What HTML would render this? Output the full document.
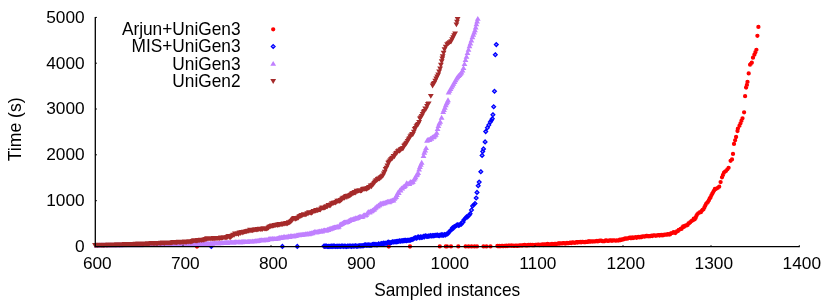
<!DOCTYPE html>
<html><head><meta charset="utf-8"><title>Sampled instances vs Time</title>
<style>
html,body{margin:0;padding:0;background:#fff;}
svg{display:block;will-change:transform;}
text{font-family:"Liberation Sans",sans-serif;font-size:17.3px;fill:#000;}
</style></head>
<body>
<svg width="830" height="302" viewBox="0 0 830 302">
<rect width="830" height="302" fill="#fff"/>
<g id="series">
<path id="s-arjun" d="M197 246.5h0M324.6 246.5h0M388.8 246.5h0M410 246.5h0M439.8 246.4h0M445.8 246.4h0M447 246.4h0M451 246.4h0M458.3 246.4h0M465.6 246.4h0M468.6 246.4h0M471.6 246.4h0M474.6 246.4h0M477 246.4h0M483.5 246.4h0M486.5 246.4h0M490.5 246.4h0M497.4 246h0M498.3 246.2h0M499.2 246h0M500.1 246.2h0M501 246.2h0M501.8 245.9h0M502.7 246h0M503.6 246.1h0M504.5 245.9h0M505.4 246.1h0M506.2 245.6h0M507.1 246.1h0M508 245.8h0M508.9 245.7h0M509.8 245.6h0M510.6 245.7h0M511.5 245.8h0M512.4 245.7h0M513.3 245.9h0M514.2 245.9h0M515 245.8h0M515.9 245.6h0M516.8 245.9h0M517.7 245.9h0M518.6 245.6h0M519.4 245.6h0M520.3 245.3h0M521.2 245.3h0M522.1 245.6h0M523 245.1h0M523.9 245.2h0M524.7 245h0M525.6 245.3h0M526.5 245.4h0M527.4 245.4h0M528.3 244.9h0M529.1 245.1h0M530 245h0M530.9 244.8h0M531.8 245.1h0M532.7 245h0M533.5 245.1h0M534.4 245.2h0M535.3 244.8h0M536.2 244.9h0M537.1 244.8h0M537.9 244.7h0M538.8 244.6h0M539.7 245.1h0M540.6 244.9h0M541.5 244.9h0M542.3 244.4h0M543.2 245h0M544.1 244.5h0M545 244.5h0M545.9 244.6h0M546.7 244.4h0M547.6 244h0M548.5 244.4h0M549.4 244.4h0M550.3 244.4h0M551.2 244.4h0M552 243.9h0M552.9 244.1h0M553.8 244.3h0M554.7 244h0M555.6 243.8h0M556.4 244.1h0M557.3 243.8h0M558.2 243.4h0M559.1 243.7h0M560 243.5h0M560.8 243.4h0M561.7 243.3h0M562.6 243.4h0M563.5 243.2h0M564.4 243.4h0M565.2 243.5h0M566.1 243.4h0M567 243h0M567.9 243.2h0M568.8 243.2h0M569.6 242.8h0M570.5 242.7h0M571.4 243h0M572.3 242.4h0M573.2 242.6h0M574 242.6h0M574.9 242.9h0M575.8 242.3h0M576.7 242.1h0M577.6 242.6h0M578.4 242.2h0M579.3 242.1h0M580.2 241.9h0M581.1 242.4h0M582 241.8h0M582.9 241.8h0M583.7 242.1h0M584.6 242.1h0M585.5 242h0M586.4 241.9h0M587.3 241.8h0M588.1 241.9h0M589 241.2h0M589.9 241.6h0M590.8 241.7h0M591.7 241.4h0M592.5 241.6h0M593.4 241.4h0M594.3 241.3h0M595.2 241.4h0M596.1 241.2h0M596.9 241h0M597.8 241.3h0M598.7 241h0M599.6 240.9h0M600.5 240.7h0M601.3 240.7h0M602.2 241.2h0M603.1 241.1h0M604 241.1h0M604.9 241h0M605.7 240.4h0M606.6 240.6h0M607.5 240.8h0M608.4 240.9h0M609.3 240.6h0M610.2 240.5h0M611 240.4h0M611.9 240.8h0M612.8 240.5h0M613.7 240.3h0M614.6 240.3h0M615.4 240.6h0M616.3 240.6h0M617.2 240.3h0M618.1 240.5h0M619 240.4h0M619.8 239.7h0M620.7 240.2h0M621.6 239.6h0M622.5 239.5h0M623.4 239.4h0M624.2 238.8h0M625.1 238.5h0M626 238.8h0M626.9 238.3h0M627.8 238.6h0M628.6 238.2h0M629.5 237.7h0M630.4 238h0M631.3 238.2h0M632.2 237.5h0M633 238h0M633.9 237.8h0M634.8 237.6h0M635.7 237.2h0M636.6 237.8h0M637.4 237.4h0M638.3 237h0M639.2 237.4h0M640.1 236.8h0M641 237h0M641.9 237.1h0M642.7 236.4h0M643.6 236.4h0M644.5 236.7h0M645.4 236.2h0M646.3 236h0M647.1 236h0M648 236.1h0M648.9 236.3h0M649.8 236.1h0M650.7 236h0M651.5 235.7h0M652.4 236h0M653.3 235.5h0M654.2 235.4h0M655.1 235.6h0M655.9 235.8h0M656.8 235.3h0M657.7 235.3h0M658.6 235.2h0M659.5 235.5h0M660.3 235.1h0M661.2 235h0M662.1 235.4h0M663 234.8h0M663.9 235h0M664.7 234.6h0M665.6 234.6h0M666.5 234.6h0M667.4 234.5h0M668.3 234.2h0M669.2 234.5h0M670 234.4h0M670.9 233.3h0M671.8 233.1h0M672.7 232.8h0M673.6 232.1h0M674.4 232.5h0M675.3 233h0M676.2 232h0M677.1 231.1h0M678 231h0M678.8 229.8h0M679.7 229.6h0M680.6 228.8h0M681.5 228.9h0M682.4 227.5h0M683.2 226.5h0M684.1 226.8h0M685 225.9h0M685.9 225.5h0M686.8 225.4h0M687.6 224.9h0M688.5 223.4h0M689.4 223h0M690.3 222.2h0M691.2 221.3h0M692 220.7h0M692.9 220.3h0M693.8 218.6h0M694.7 219.3h0M695.6 217.9h0M696.4 215.9h0M697.3 214.3h0M698.2 213.4h0M699.1 212.8h0M700 212.2h0M700.9 212.2h0M701.7 210.8h0M702.6 210h0M703.5 209.3h0M704.4 207.4h0M705.3 205.6h0M706.1 204h0M707 202.9h0M707.9 202h0M708.8 200.4h0M709.7 198.5h0M710.5 197.5h0M711.4 195.3h0M712.3 193.7h0M713.2 192.1h0M714.1 190.6h0M714.9 188.9h0M715.8 189h0M717.9 187.8h0M719.2 186.7h0M720.6 182.1h0M722 177.3h0M723 175h0M724 172.7h0M725.1 171.6h0M726.2 170.8h0M727.4 169.3h0M728.6 167.8h0M730.6 160.8h0M732 159.4h0M733 153.9h0M734 143.9h0M735.1 140.3h0M736.1 137h0M737.5 131h0M737.9 128.6h0M739.5 125.7h0M740.5 123.3h0M741.5 120.7h0M742.5 118.3h0M744.1 112.3h0M745.1 96.2h0M746.1 87.5h0M746.9 84.9h0M747.5 81.9h0M748.7 73.4h0M750.1 64.7h0M751 63.7h0M751.8 62.7h0M753 57.7h0M754.4 54.7h0M755.4 52.2h0M756.4 49.8h0M757.4 35.8h0M758.4 26.9h0M273.2 29.3h0" fill="none" stroke="#ff0000" stroke-width="4.3" stroke-linecap="round"/>
<path id="s-mis" d="M211.3 244.5l1.9 1.9l-1.9 1.9l-1.9 -1.9zM282.4 244.5l1.9 1.9l-1.9 1.9l-1.9 -1.9zM297.3 244.5l1.9 1.9l-1.9 1.9l-1.9 -1.9zM324 244.2l1.9 1.9l-1.9 1.9l-1.9 -1.9zM324.8 244.4l1.9 1.9l-1.9 1.9l-1.9 -1.9zM325.7 244.2l1.9 1.9l-1.9 1.9l-1.9 -1.9zM326.6 244.2l1.9 1.9l-1.9 1.9l-1.9 -1.9zM327.5 244.6l1.9 1.9l-1.9 1.9l-1.9 -1.9zM328.4 244.5l1.9 1.9l-1.9 1.9l-1.9 -1.9zM329.2 244.6l1.9 1.9l-1.9 1.9l-1.9 -1.9zM330.1 244.4l1.9 1.9l-1.9 1.9l-1.9 -1.9zM331 244.5l1.9 1.9l-1.9 1.9l-1.9 -1.9zM331.9 244.2l1.9 1.9l-1.9 1.9l-1.9 -1.9zM332.8 244.5l1.9 1.9l-1.9 1.9l-1.9 -1.9zM333.6 244.2l1.9 1.9l-1.9 1.9l-1.9 -1.9zM334.5 244.2l1.9 1.9l-1.9 1.9l-1.9 -1.9zM335.4 244.6l1.9 1.9l-1.9 1.9l-1.9 -1.9zM336.3 244.4l1.9 1.9l-1.9 1.9l-1.9 -1.9zM337.2 244.5l1.9 1.9l-1.9 1.9l-1.9 -1.9zM338 244.4l1.9 1.9l-1.9 1.9l-1.9 -1.9zM338.9 244.3l1.9 1.9l-1.9 1.9l-1.9 -1.9zM339.8 244.3l1.9 1.9l-1.9 1.9l-1.9 -1.9zM340.7 244.6l1.9 1.9l-1.9 1.9l-1.9 -1.9zM341.6 244.1l1.9 1.9l-1.9 1.9l-1.9 -1.9zM342.4 244.1l1.9 1.9l-1.9 1.9l-1.9 -1.9zM343.3 244.5l1.9 1.9l-1.9 1.9l-1.9 -1.9zM344.2 244.3l1.9 1.9l-1.9 1.9l-1.9 -1.9zM345.1 244.1l1.9 1.9l-1.9 1.9l-1.9 -1.9zM346 244.6l1.9 1.9l-1.9 1.9l-1.9 -1.9zM346.9 244.6l1.9 1.9l-1.9 1.9l-1.9 -1.9zM347.7 244.1l1.9 1.9l-1.9 1.9l-1.9 -1.9zM348.6 244.4l1.9 1.9l-1.9 1.9l-1.9 -1.9zM349.5 244.1l1.9 1.9l-1.9 1.9l-1.9 -1.9zM350.4 244.1l1.9 1.9l-1.9 1.9l-1.9 -1.9zM351.3 244.6l1.9 1.9l-1.9 1.9l-1.9 -1.9zM352.1 244.1l1.9 1.9l-1.9 1.9l-1.9 -1.9zM353 244.1l1.9 1.9l-1.9 1.9l-1.9 -1.9zM353.9 244.4l1.9 1.9l-1.9 1.9l-1.9 -1.9zM354.8 244.1l1.9 1.9l-1.9 1.9l-1.9 -1.9zM355.7 243.8l1.9 1.9l-1.9 1.9l-1.9 -1.9zM356.5 244.4l1.9 1.9l-1.9 1.9l-1.9 -1.9zM357.4 244.3l1.9 1.9l-1.9 1.9l-1.9 -1.9zM358.3 244.1l1.9 1.9l-1.9 1.9l-1.9 -1.9zM359.2 243.8l1.9 1.9l-1.9 1.9l-1.9 -1.9zM360.1 244.1l1.9 1.9l-1.9 1.9l-1.9 -1.9zM360.9 243.9l1.9 1.9l-1.9 1.9l-1.9 -1.9zM361.8 243.8l1.9 1.9l-1.9 1.9l-1.9 -1.9zM362.7 243.8l1.9 1.9l-1.9 1.9l-1.9 -1.9zM363.6 243.7l1.9 1.9l-1.9 1.9l-1.9 -1.9zM364.5 243.2l1.9 1.9l-1.9 1.9l-1.9 -1.9zM365.3 243l1.9 1.9l-1.9 1.9l-1.9 -1.9zM366.2 243.2l1.9 1.9l-1.9 1.9l-1.9 -1.9zM367.1 243.4l1.9 1.9l-1.9 1.9l-1.9 -1.9zM368 243l1.9 1.9l-1.9 1.9l-1.9 -1.9zM368.9 243.2l1.9 1.9l-1.9 1.9l-1.9 -1.9zM369.7 243.2l1.9 1.9l-1.9 1.9l-1.9 -1.9zM370.6 243.3l1.9 1.9l-1.9 1.9l-1.9 -1.9zM371.5 243.3l1.9 1.9l-1.9 1.9l-1.9 -1.9zM372.4 242.7l1.9 1.9l-1.9 1.9l-1.9 -1.9zM373.3 242.5l1.9 1.9l-1.9 1.9l-1.9 -1.9zM374.2 242.9l1.9 1.9l-1.9 1.9l-1.9 -1.9zM375 242.4l1.9 1.9l-1.9 1.9l-1.9 -1.9zM375.9 242.9l1.9 1.9l-1.9 1.9l-1.9 -1.9zM376.8 242.7l1.9 1.9l-1.9 1.9l-1.9 -1.9zM377.7 242.8l1.9 1.9l-1.9 1.9l-1.9 -1.9zM378.6 242l1.9 1.9l-1.9 1.9l-1.9 -1.9zM379.4 242.4l1.9 1.9l-1.9 1.9l-1.9 -1.9zM380.3 242.3l1.9 1.9l-1.9 1.9l-1.9 -1.9zM381.2 241.6l1.9 1.9l-1.9 1.9l-1.9 -1.9zM382.1 241.6l1.9 1.9l-1.9 1.9l-1.9 -1.9zM383 242l1.9 1.9l-1.9 1.9l-1.9 -1.9zM383.8 241.1l1.9 1.9l-1.9 1.9l-1.9 -1.9zM384.7 241.6l1.9 1.9l-1.9 1.9l-1.9 -1.9zM385.6 241.3l1.9 1.9l-1.9 1.9l-1.9 -1.9zM386.5 241.4l1.9 1.9l-1.9 1.9l-1.9 -1.9zM387.4 241l1.9 1.9l-1.9 1.9l-1.9 -1.9zM388.2 240.2l1.9 1.9l-1.9 1.9l-1.9 -1.9zM389.1 240.6l1.9 1.9l-1.9 1.9l-1.9 -1.9zM390 240.7l1.9 1.9l-1.9 1.9l-1.9 -1.9zM390.9 240.8l1.9 1.9l-1.9 1.9l-1.9 -1.9zM391.8 240.4l1.9 1.9l-1.9 1.9l-1.9 -1.9zM392.6 239.9l1.9 1.9l-1.9 1.9l-1.9 -1.9zM393.5 240.1l1.9 1.9l-1.9 1.9l-1.9 -1.9zM394.4 239.9l1.9 1.9l-1.9 1.9l-1.9 -1.9zM395.3 239.9l1.9 1.9l-1.9 1.9l-1.9 -1.9zM396.2 239.7l1.9 1.9l-1.9 1.9l-1.9 -1.9zM397 239.7l1.9 1.9l-1.9 1.9l-1.9 -1.9zM397.9 239.5l1.9 1.9l-1.9 1.9l-1.9 -1.9zM398.8 239.3l1.9 1.9l-1.9 1.9l-1.9 -1.9zM399.7 239l1.9 1.9l-1.9 1.9l-1.9 -1.9zM400.6 239.3l1.9 1.9l-1.9 1.9l-1.9 -1.9zM401.4 238.9l1.9 1.9l-1.9 1.9l-1.9 -1.9zM402.3 239l1.9 1.9l-1.9 1.9l-1.9 -1.9zM403.2 238.7l1.9 1.9l-1.9 1.9l-1.9 -1.9zM404.1 238.7l1.9 1.9l-1.9 1.9l-1.9 -1.9zM405 238.5l1.9 1.9l-1.9 1.9l-1.9 -1.9zM405.9 238.5l1.9 1.9l-1.9 1.9l-1.9 -1.9zM406.7 238.8l1.9 1.9l-1.9 1.9l-1.9 -1.9zM407.6 238.4l1.9 1.9l-1.9 1.9l-1.9 -1.9zM408.5 238.4l1.9 1.9l-1.9 1.9l-1.9 -1.9zM409.4 238.3l1.9 1.9l-1.9 1.9l-1.9 -1.9zM410.3 238.2l1.9 1.9l-1.9 1.9l-1.9 -1.9zM411.1 237.7l1.9 1.9l-1.9 1.9l-1.9 -1.9zM412 237.6l1.9 1.9l-1.9 1.9l-1.9 -1.9zM412.9 237.3l1.9 1.9l-1.9 1.9l-1.9 -1.9zM413.8 236.7l1.9 1.9l-1.9 1.9l-1.9 -1.9zM414.7 236.1l1.9 1.9l-1.9 1.9l-1.9 -1.9zM415.5 235.8l1.9 1.9l-1.9 1.9l-1.9 -1.9zM416.4 236.3l1.9 1.9l-1.9 1.9l-1.9 -1.9zM417.3 235.7l1.9 1.9l-1.9 1.9l-1.9 -1.9zM418.2 234.9l1.9 1.9l-1.9 1.9l-1.9 -1.9zM419.1 235.5l1.9 1.9l-1.9 1.9l-1.9 -1.9zM419.9 235.8l1.9 1.9l-1.9 1.9l-1.9 -1.9zM420.8 234.8l1.9 1.9l-1.9 1.9l-1.9 -1.9zM421.7 235.6l1.9 1.9l-1.9 1.9l-1.9 -1.9zM422.6 235.2l1.9 1.9l-1.9 1.9l-1.9 -1.9zM423.5 234.5l1.9 1.9l-1.9 1.9l-1.9 -1.9zM424.3 235.1l1.9 1.9l-1.9 1.9l-1.9 -1.9zM425.2 234l1.9 1.9l-1.9 1.9l-1.9 -1.9zM426.1 234.1l1.9 1.9l-1.9 1.9l-1.9 -1.9zM427 234.6l1.9 1.9l-1.9 1.9l-1.9 -1.9zM427.9 234.4l1.9 1.9l-1.9 1.9l-1.9 -1.9zM428.7 234.2l1.9 1.9l-1.9 1.9l-1.9 -1.9zM429.6 234.1l1.9 1.9l-1.9 1.9l-1.9 -1.9zM430.5 233.7l1.9 1.9l-1.9 1.9l-1.9 -1.9zM431.4 234.1l1.9 1.9l-1.9 1.9l-1.9 -1.9zM432.3 233.7l1.9 1.9l-1.9 1.9l-1.9 -1.9zM433.2 233.9l1.9 1.9l-1.9 1.9l-1.9 -1.9zM434 233.7l1.9 1.9l-1.9 1.9l-1.9 -1.9zM434.9 233.6l1.9 1.9l-1.9 1.9l-1.9 -1.9zM435.8 233.4l1.9 1.9l-1.9 1.9l-1.9 -1.9zM436.7 233.4l1.9 1.9l-1.9 1.9l-1.9 -1.9zM437.6 233.2l1.9 1.9l-1.9 1.9l-1.9 -1.9zM438.4 233.6l1.9 1.9l-1.9 1.9l-1.9 -1.9zM439.3 233.7l1.9 1.9l-1.9 1.9l-1.9 -1.9zM440.2 233.1l1.9 1.9l-1.9 1.9l-1.9 -1.9zM441.1 233.4l1.9 1.9l-1.9 1.9l-1.9 -1.9zM442 232.7l1.9 1.9l-1.9 1.9l-1.9 -1.9zM442.8 233.4l1.9 1.9l-1.9 1.9l-1.9 -1.9zM443.7 233.2l1.9 1.9l-1.9 1.9l-1.9 -1.9zM444.6 232.6l1.9 1.9l-1.9 1.9l-1.9 -1.9zM445.5 233l1.9 1.9l-1.9 1.9l-1.9 -1.9zM446.4 232.3l1.9 1.9l-1.9 1.9l-1.9 -1.9zM447.2 232.1l1.9 1.9l-1.9 1.9l-1.9 -1.9zM448.1 231.6l1.9 1.9l-1.9 1.9l-1.9 -1.9zM449 230l1.9 1.9l-1.9 1.9l-1.9 -1.9zM449.9 229.2l1.9 1.9l-1.9 1.9l-1.9 -1.9zM450.8 228.3l1.9 1.9l-1.9 1.9l-1.9 -1.9zM451.6 227.8l1.9 1.9l-1.9 1.9l-1.9 -1.9zM452.5 225.8l1.9 1.9l-1.9 1.9l-1.9 -1.9zM453.4 226.4l1.9 1.9l-1.9 1.9l-1.9 -1.9zM454.3 224.6l1.9 1.9l-1.9 1.9l-1.9 -1.9zM455.2 224.6l1.9 1.9l-1.9 1.9l-1.9 -1.9zM456 223.9l1.9 1.9l-1.9 1.9l-1.9 -1.9zM456.9 223.2l1.9 1.9l-1.9 1.9l-1.9 -1.9zM457.8 222.8l1.9 1.9l-1.9 1.9l-1.9 -1.9zM458.7 223.5l1.9 1.9l-1.9 1.9l-1.9 -1.9zM459.6 223.1l1.9 1.9l-1.9 1.9l-1.9 -1.9zM460.4 222.1l1.9 1.9l-1.9 1.9l-1.9 -1.9zM461.3 222.4l1.9 1.9l-1.9 1.9l-1.9 -1.9zM462.2 220.4l1.9 1.9l-1.9 1.9l-1.9 -1.9zM463.1 220.2l1.9 1.9l-1.9 1.9l-1.9 -1.9zM464 217.9l1.9 1.9l-1.9 1.9l-1.9 -1.9zM464.9 216.9l1.9 1.9l-1.9 1.9l-1.9 -1.9zM465.7 215.8l1.9 1.9l-1.9 1.9l-1.9 -1.9zM466.6 214.8l1.9 1.9l-1.9 1.9l-1.9 -1.9zM467.5 215.1l1.9 1.9l-1.9 1.9l-1.9 -1.9zM468.4 214l1.9 1.9l-1.9 1.9l-1.9 -1.9zM469.3 213.1l1.9 1.9l-1.9 1.9l-1.9 -1.9zM470.1 211.9l1.9 1.9l-1.9 1.9l-1.9 -1.9zM471.5 208.1l1.9 1.9l-1.9 1.9l-1.9 -1.9zM472.6 204l1.9 1.9l-1.9 1.9l-1.9 -1.9zM473.8 202.8l1.9 1.9l-1.9 1.9l-1.9 -1.9zM475 201.6l1.9 1.9l-1.9 1.9l-1.9 -1.9zM476.2 196.1l1.9 1.9l-1.9 1.9l-1.9 -1.9zM477 190.5l1.9 1.9l-1.9 1.9l-1.9 -1.9zM478.2 183.8l1.9 1.9l-1.9 1.9l-1.9 -1.9zM479.2 180.2l1.9 1.9l-1.9 1.9l-1.9 -1.9zM480.8 169.8l1.9 1.9l-1.9 1.9l-1.9 -1.9zM482.1 153.5l1.9 1.9l-1.9 1.9l-1.9 -1.9zM482.7 149.6l1.9 1.9l-1.9 1.9l-1.9 -1.9zM483.5 147l1.9 1.9l-1.9 1.9l-1.9 -1.9zM485.1 140l1.9 1.9l-1.9 1.9l-1.9 -1.9zM485.7 129.7l1.9 1.9l-1.9 1.9l-1.9 -1.9zM487.4 125.8l1.9 1.9l-1.9 1.9l-1.9 -1.9zM488.8 123.1l1.9 1.9l-1.9 1.9l-1.9 -1.9zM490.3 120.2l1.9 1.9l-1.9 1.9l-1.9 -1.9zM491.3 118.5l1.9 1.9l-1.9 1.9l-1.9 -1.9zM492.3 116.8l1.9 1.9l-1.9 1.9l-1.9 -1.9zM492.9 112.8l1.9 1.9l-1.9 1.9l-1.9 -1.9zM493.7 104.9l1.9 1.9l-1.9 1.9l-1.9 -1.9zM494.5 89.4l1.9 1.9l-1.9 1.9l-1.9 -1.9zM495.3 52.8l1.9 1.9l-1.9 1.9l-1.9 -1.9zM496.3 42.7l1.9 1.9l-1.9 1.9l-1.9 -1.9zM273.2 44.6l1.9 1.9l-1.9 1.9l-1.9 -1.9z" fill="#0000ff" fill-opacity="0.45" stroke="#0000ff" stroke-width="1.25" stroke-linejoin="miter"/>
<path id="s-unigen3" d="M96.8 242.8l2.9 4.9h-5.8zM97.6 242.5l2.9 4.9h-5.8zM98.5 242.7l2.9 4.9h-5.8zM99.4 242.5l2.9 4.9h-5.8zM100.3 242.7l2.9 4.9h-5.8zM101.2 242.5l2.9 4.9h-5.8zM102 242.5l2.9 4.9h-5.8zM102.9 242.5l2.9 4.9h-5.8zM103.8 242.5l2.9 4.9h-5.8zM104.7 242.6l2.9 4.9h-5.8zM105.6 242.4l2.9 4.9h-5.8zM106.4 242.6l2.9 4.9h-5.8zM107.3 242.7l2.9 4.9h-5.8zM108.2 242.4l2.9 4.9h-5.8zM109.1 242.7l2.9 4.9h-5.8zM110 242.6l2.9 4.9h-5.8zM110.9 242.5l2.9 4.9h-5.8zM111.7 242.5l2.9 4.9h-5.8zM112.6 242.6l2.9 4.9h-5.8zM113.5 242.5l2.9 4.9h-5.8zM114.4 242.5l2.9 4.9h-5.8zM115.3 242.4l2.9 4.9h-5.8zM116.1 242.5l2.9 4.9h-5.8zM117 242.3l2.9 4.9h-5.8zM117.9 242.3l2.9 4.9h-5.8zM118.8 242.2l2.9 4.9h-5.8zM119.7 242.3l2.9 4.9h-5.8zM120.5 242.5l2.9 4.9h-5.8zM121.4 242.3l2.9 4.9h-5.8zM122.3 242.2l2.9 4.9h-5.8zM123.2 242.4l2.9 4.9h-5.8zM124.1 242.3l2.9 4.9h-5.8zM124.9 242.4l2.9 4.9h-5.8zM125.8 242.4l2.9 4.9h-5.8zM126.7 242.4l2.9 4.9h-5.8zM127.6 242.2l2.9 4.9h-5.8zM128.5 242.3l2.9 4.9h-5.8zM129.3 242.2l2.9 4.9h-5.8zM130.2 242.2l2.9 4.9h-5.8zM131.1 242.2l2.9 4.9h-5.8zM132 242.3l2.9 4.9h-5.8zM132.9 242.2l2.9 4.9h-5.8zM133.7 242.2l2.9 4.9h-5.8zM134.6 242.1l2.9 4.9h-5.8zM135.5 242.4l2.9 4.9h-5.8zM136.4 242.1l2.9 4.9h-5.8zM137.3 242.3l2.9 4.9h-5.8zM138.1 242.3l2.9 4.9h-5.8zM139 242l2.9 4.9h-5.8zM139.9 242.1l2.9 4.9h-5.8zM140.8 242.3l2.9 4.9h-5.8zM141.7 242.1l2.9 4.9h-5.8zM142.6 242l2.9 4.9h-5.8zM143.4 242.2l2.9 4.9h-5.8zM144.3 242.1l2.9 4.9h-5.8zM145.2 242.1l2.9 4.9h-5.8zM146.1 242l2.9 4.9h-5.8zM147 242l2.9 4.9h-5.8zM147.8 242.1l2.9 4.9h-5.8zM148.7 242l2.9 4.9h-5.8zM149.6 242.1l2.9 4.9h-5.8zM150.5 241.9l2.9 4.9h-5.8zM151.4 242.1l2.9 4.9h-5.8zM152.2 242l2.9 4.9h-5.8zM153.1 242l2.9 4.9h-5.8zM154 242l2.9 4.9h-5.8zM154.9 241.9l2.9 4.9h-5.8zM155.8 242l2.9 4.9h-5.8zM156.6 241.9l2.9 4.9h-5.8zM157.5 242.1l2.9 4.9h-5.8zM158.4 241.9l2.9 4.9h-5.8zM159.3 241.9l2.9 4.9h-5.8zM160.2 241.9l2.9 4.9h-5.8zM161 241.8l2.9 4.9h-5.8zM161.9 241.7l2.9 4.9h-5.8zM162.8 242l2.9 4.9h-5.8zM163.7 241.9l2.9 4.9h-5.8zM164.6 242l2.9 4.9h-5.8zM165.4 241.7l2.9 4.9h-5.8zM166.3 241.9l2.9 4.9h-5.8zM167.2 241.7l2.9 4.9h-5.8zM168.1 241.9l2.9 4.9h-5.8zM169 241.7l2.9 4.9h-5.8zM169.9 241.8l2.9 4.9h-5.8zM170.7 241.7l2.9 4.9h-5.8zM171.6 241.8l2.9 4.9h-5.8zM172.5 241.7l2.9 4.9h-5.8zM173.4 241.7l2.9 4.9h-5.8zM174.3 241.8l2.9 4.9h-5.8zM175.1 241.6l2.9 4.9h-5.8zM176 241.9l2.9 4.9h-5.8zM176.9 241.8l2.9 4.9h-5.8zM177.8 241.8l2.9 4.9h-5.8zM178.7 241.6l2.9 4.9h-5.8zM179.5 241.8l2.9 4.9h-5.8zM180.4 241.6l2.9 4.9h-5.8zM181.3 241.7l2.9 4.9h-5.8zM182.2 241.6l2.9 4.9h-5.8zM183.1 241.7l2.9 4.9h-5.8zM183.9 241.8l2.9 4.9h-5.8zM184.8 241.7l2.9 4.9h-5.8zM185.7 241.5l2.9 4.9h-5.8zM186.6 241.6l2.9 4.9h-5.8zM187.5 241.6l2.9 4.9h-5.8zM188.3 241.6l2.9 4.9h-5.8zM189.2 241.6l2.9 4.9h-5.8zM190.1 241.6l2.9 4.9h-5.8zM191 241.5l2.9 4.9h-5.8zM191.9 241.5l2.9 4.9h-5.8zM192.7 241.4l2.9 4.9h-5.8zM193.6 241.4l2.9 4.9h-5.8zM194.5 241.3l2.9 4.9h-5.8zM195.4 241.3l2.9 4.9h-5.8zM196.3 241.4l2.9 4.9h-5.8zM197.1 241.3l2.9 4.9h-5.8zM198 241.1l2.9 4.9h-5.8zM198.9 241.4l2.9 4.9h-5.8zM199.8 241.4l2.9 4.9h-5.8zM200.7 241.2l2.9 4.9h-5.8zM201.6 241.2l2.9 4.9h-5.8zM202.4 241.3l2.9 4.9h-5.8zM203.3 241.3l2.9 4.9h-5.8zM204.2 241l2.9 4.9h-5.8zM205.1 241.3l2.9 4.9h-5.8zM206 241.3l2.9 4.9h-5.8zM206.8 240.9l2.9 4.9h-5.8zM207.7 240.8l2.9 4.9h-5.8zM208.6 241l2.9 4.9h-5.8zM209.5 241.2l2.9 4.9h-5.8zM210.4 240.8l2.9 4.9h-5.8zM211.2 240.8l2.9 4.9h-5.8zM212.1 241l2.9 4.9h-5.8zM213 240.7l2.9 4.9h-5.8zM213.9 240.6l2.9 4.9h-5.8zM214.8 240.4l2.9 4.9h-5.8zM215.6 240.7l2.9 4.9h-5.8zM216.5 240.4l2.9 4.9h-5.8zM217.4 240.7l2.9 4.9h-5.8zM218.3 240.5l2.9 4.9h-5.8zM219.2 240.3l2.9 4.9h-5.8zM220 240.3l2.9 4.9h-5.8zM220.9 240.4l2.9 4.9h-5.8zM221.8 240.2l2.9 4.9h-5.8zM222.7 240l2.9 4.9h-5.8zM223.6 240.2l2.9 4.9h-5.8zM224.4 240l2.9 4.9h-5.8zM225.3 240l2.9 4.9h-5.8zM226.2 239.8l2.9 4.9h-5.8zM227.1 240l2.9 4.9h-5.8zM228 239.7l2.9 4.9h-5.8zM228.9 239.9l2.9 4.9h-5.8zM229.7 239.9l2.9 4.9h-5.8zM230.6 239.6l2.9 4.9h-5.8zM231.5 239.6l2.9 4.9h-5.8zM232.4 239.7l2.9 4.9h-5.8zM233.3 239.8l2.9 4.9h-5.8zM234.1 239.7l2.9 4.9h-5.8zM235 239.3l2.9 4.9h-5.8zM235.9 239.3l2.9 4.9h-5.8zM236.8 239.4l2.9 4.9h-5.8zM237.7 239.4l2.9 4.9h-5.8zM238.5 239.2l2.9 4.9h-5.8zM239.4 239.2l2.9 4.9h-5.8zM240.3 239.5l2.9 4.9h-5.8zM241.2 239.1l2.9 4.9h-5.8zM242.1 239.3l2.9 4.9h-5.8zM242.9 239.1l2.9 4.9h-5.8zM243.8 239l2.9 4.9h-5.8zM244.7 239.1l2.9 4.9h-5.8zM245.6 239l2.9 4.9h-5.8zM246.5 239.2l2.9 4.9h-5.8zM247.3 239.1l2.9 4.9h-5.8zM248.2 238.8l2.9 4.9h-5.8zM249.1 238.9l2.9 4.9h-5.8zM250 238.7l2.9 4.9h-5.8zM250.9 238.9l2.9 4.9h-5.8zM251.7 238.9l2.9 4.9h-5.8zM252.6 238.6l2.9 4.9h-5.8zM253.5 238.7l2.9 4.9h-5.8zM254.4 238.6l2.9 4.9h-5.8zM255.3 238.3l2.9 4.9h-5.8zM256.1 238.2l2.9 4.9h-5.8zM257 238.3l2.9 4.9h-5.8zM257.9 238.1l2.9 4.9h-5.8zM258.8 237.9l2.9 4.9h-5.8zM259.7 237.6l2.9 4.9h-5.8zM260.6 237.4l2.9 4.9h-5.8zM261.4 237.3l2.9 4.9h-5.8zM262.3 237.4l2.9 4.9h-5.8zM263.2 237.5l2.9 4.9h-5.8zM264.1 237.4l2.9 4.9h-5.8zM265 237.1l2.9 4.9h-5.8zM265.8 237.4l2.9 4.9h-5.8zM266.7 237.1l2.9 4.9h-5.8zM267.6 237.2l2.9 4.9h-5.8zM268.5 236.3l2.9 4.9h-5.8zM269.4 236.2l2.9 4.9h-5.8zM270.2 236.1l2.9 4.9h-5.8zM271.1 236.4l2.9 4.9h-5.8zM272 236.1l2.9 4.9h-5.8zM272.9 235.9l2.9 4.9h-5.8zM273.8 236.2l2.9 4.9h-5.8zM274.6 236l2.9 4.9h-5.8zM275.5 236.2l2.9 4.9h-5.8zM276.4 235.9l2.9 4.9h-5.8zM277.3 235.8l2.9 4.9h-5.8zM278.2 235.6l2.9 4.9h-5.8zM279 235.2l2.9 4.9h-5.8zM279.9 234.8l2.9 4.9h-5.8zM280.8 235.2l2.9 4.9h-5.8zM281.7 234.5l2.9 4.9h-5.8zM282.6 234.9l2.9 4.9h-5.8zM283.4 234.2l2.9 4.9h-5.8zM284.3 234.1l2.9 4.9h-5.8zM285.2 234.5l2.9 4.9h-5.8zM286.1 234.5l2.9 4.9h-5.8zM287 234l2.9 4.9h-5.8zM287.9 234.2l2.9 4.9h-5.8zM288.7 233.5l2.9 4.9h-5.8zM289.6 234.1l2.9 4.9h-5.8zM290.5 233.2l2.9 4.9h-5.8zM291.4 233.3l2.9 4.9h-5.8zM292.3 233.6l2.9 4.9h-5.8zM293.1 233.5l2.9 4.9h-5.8zM294 233.3l2.9 4.9h-5.8zM294.9 233.1l2.9 4.9h-5.8zM295.8 233.2l2.9 4.9h-5.8zM296.7 232.6l2.9 4.9h-5.8zM297.5 232.4l2.9 4.9h-5.8zM298.4 232.3l2.9 4.9h-5.8zM299.3 232.3l2.9 4.9h-5.8zM300.2 232l2.9 4.9h-5.8zM301.1 232.2l2.9 4.9h-5.8zM301.9 232l2.9 4.9h-5.8zM302.8 231.7l2.9 4.9h-5.8zM303.7 231.8l2.9 4.9h-5.8zM304.6 231.7l2.9 4.9h-5.8zM305.5 231.2l2.9 4.9h-5.8zM306.3 231.5l2.9 4.9h-5.8zM307.2 231l2.9 4.9h-5.8zM308.1 231.2l2.9 4.9h-5.8zM309 231.3l2.9 4.9h-5.8zM309.9 230.6l2.9 4.9h-5.8zM310.7 230.8l2.9 4.9h-5.8zM311.6 230.2l2.9 4.9h-5.8zM312.5 230.3l2.9 4.9h-5.8zM313.4 229.7l2.9 4.9h-5.8zM314.3 229.2l2.9 4.9h-5.8zM315.1 229.1l2.9 4.9h-5.8zM316 229.6l2.9 4.9h-5.8zM316.9 229.3l2.9 4.9h-5.8zM317.8 229.1l2.9 4.9h-5.8zM318.7 228.7l2.9 4.9h-5.8zM319.6 228.6l2.9 4.9h-5.8zM320.4 228.9l2.9 4.9h-5.8zM321.3 227.9l2.9 4.9h-5.8zM322.2 228.5l2.9 4.9h-5.8zM323.1 227.9l2.9 4.9h-5.8zM324 227.6l2.9 4.9h-5.8zM324.8 227.4l2.9 4.9h-5.8zM325.7 227.8l2.9 4.9h-5.8zM326.6 227.5l2.9 4.9h-5.8zM327.5 226.7l2.9 4.9h-5.8zM328.4 227.1l2.9 4.9h-5.8zM329.2 226.1l2.9 4.9h-5.8zM330.1 226.4l2.9 4.9h-5.8zM331 225.6l2.9 4.9h-5.8zM331.9 225.9l2.9 4.9h-5.8zM332.8 225.1l2.9 4.9h-5.8zM333.6 225l2.9 4.9h-5.8zM334.5 224.6l2.9 4.9h-5.8zM335.4 224.6l2.9 4.9h-5.8zM336.3 224.6l2.9 4.9h-5.8zM337.2 223.7l2.9 4.9h-5.8zM338 224.4l2.9 4.9h-5.8zM338.9 223.7l2.9 4.9h-5.8zM339.8 222l2.9 4.9h-5.8zM340.7 221.6l2.9 4.9h-5.8zM341.6 221.2l2.9 4.9h-5.8zM342.4 220.7l2.9 4.9h-5.8zM343.3 220l2.9 4.9h-5.8zM344.2 219.4l2.9 4.9h-5.8zM345.1 219.5l2.9 4.9h-5.8zM346 219.6l2.9 4.9h-5.8zM346.9 219.2l2.9 4.9h-5.8zM347.7 219l2.9 4.9h-5.8zM348.6 218.2l2.9 4.9h-5.8zM349.5 217.8l2.9 4.9h-5.8zM350.4 217l2.9 4.9h-5.8zM351.3 217.1l2.9 4.9h-5.8zM352.1 216.9l2.9 4.9h-5.8zM353 216.5l2.9 4.9h-5.8zM353.9 216.1l2.9 4.9h-5.8zM354.8 215.9l2.9 4.9h-5.8zM355.7 215.3l2.9 4.9h-5.8zM356.5 215.5l2.9 4.9h-5.8zM357.4 215.2l2.9 4.9h-5.8zM358.3 214.7l2.9 4.9h-5.8zM359.2 214.1l2.9 4.9h-5.8zM360.1 214l2.9 4.9h-5.8zM360.9 214.1l2.9 4.9h-5.8zM361.8 214.2l2.9 4.9h-5.8zM362.7 213.5l2.9 4.9h-5.8zM363.6 212.5l2.9 4.9h-5.8zM364.5 212.3l2.9 4.9h-5.8zM365.3 212.5l2.9 4.9h-5.8zM366.2 212.2l2.9 4.9h-5.8zM367.1 210.5l2.9 4.9h-5.8zM368 209.6l2.9 4.9h-5.8zM368.9 209.1l2.9 4.9h-5.8zM369.7 209.5l2.9 4.9h-5.8zM370.6 208.6l2.9 4.9h-5.8zM371.5 208.4l2.9 4.9h-5.8zM372.4 207.7l2.9 4.9h-5.8zM373.3 206.9l2.9 4.9h-5.8zM374.2 206.7l2.9 4.9h-5.8zM375 205.3l2.9 4.9h-5.8zM375.9 204.7l2.9 4.9h-5.8zM376.8 203.7l2.9 4.9h-5.8zM377.7 203.5l2.9 4.9h-5.8zM378.6 202.6l2.9 4.9h-5.8zM379.4 202.4l2.9 4.9h-5.8zM380.3 200.8l2.9 4.9h-5.8zM381.2 201.4l2.9 4.9h-5.8zM382.1 200.5l2.9 4.9h-5.8zM383 200.9l2.9 4.9h-5.8zM383.8 200.2l2.9 4.9h-5.8zM384.7 200.3l2.9 4.9h-5.8zM385.6 199.7l2.9 4.9h-5.8zM386.5 199.4l2.9 4.9h-5.8zM387.4 198.9l2.9 4.9h-5.8zM388.2 198.8l2.9 4.9h-5.8zM389.1 199.3l2.9 4.9h-5.8zM390 198.5l2.9 4.9h-5.8zM390.9 198.2l2.9 4.9h-5.8zM391.8 197.9l2.9 4.9h-5.8zM392.6 197.4l2.9 4.9h-5.8zM393.5 197.6l2.9 4.9h-5.8zM394.4 195.9l2.9 4.9h-5.8zM395.3 194.5l2.9 4.9h-5.8zM396.2 194.2l2.9 4.9h-5.8zM397 192.2l2.9 4.9h-5.8zM397.9 189.8l2.9 4.9h-5.8zM398.8 190.1l2.9 4.9h-5.8zM399.7 187.4l2.9 4.9h-5.8zM400.6 187.7l2.9 4.9h-5.8zM401.4 185.6l2.9 4.9h-5.8zM402.3 185.7l2.9 4.9h-5.8zM403.2 184.2l2.9 4.9h-5.8zM404.1 183.8l2.9 4.9h-5.8zM405 183.2l2.9 4.9h-5.8zM405.9 181.5l2.9 4.9h-5.8zM406.7 180.3l2.9 4.9h-5.8zM407.6 181.2l2.9 4.9h-5.8zM408.5 181l2.9 4.9h-5.8zM409.4 181l2.9 4.9h-5.8zM410.3 179.1l2.9 4.9h-5.8zM411.1 179.8l2.9 4.9h-5.8zM412 179.3l2.9 4.9h-5.8zM412.9 178.9l2.9 4.9h-5.8zM413.8 176.8l2.9 4.9h-5.8zM414.7 175.5l2.9 4.9h-5.8zM415.5 174.3l2.9 4.9h-5.8zM416.4 172.3l2.9 4.9h-5.8zM417.3 171.6l2.9 4.9h-5.8zM418.2 170.2l2.9 4.9h-5.8zM419.1 166.6l2.9 4.9h-5.8zM419.9 164.1l2.9 4.9h-5.8zM420.8 161.8l2.9 4.9h-5.8zM421.7 159.8l2.9 4.9h-5.8zM423.5 153.1l2.9 4.9h-5.8zM424.3 149.9l2.9 4.9h-5.8zM425.2 147.5l2.9 4.9h-5.8zM426.1 145.2l2.9 4.9h-5.8zM427 137.8l2.9 4.9h-5.8zM427.9 136.9l2.9 4.9h-5.8zM428.7 137.1l2.9 4.9h-5.8zM429.6 136.8l2.9 4.9h-5.8zM430.5 135.7l2.9 4.9h-5.8zM431.4 135.8l2.9 4.9h-5.8zM432.3 134.4l2.9 4.9h-5.8zM433.2 134.3l2.9 4.9h-5.8zM434 133.8l2.9 4.9h-5.8zM434.9 132.7l2.9 4.9h-5.8zM435.8 131.8l2.9 4.9h-5.8zM436.7 129.9l2.9 4.9h-5.8zM437.6 126l2.9 4.9h-5.8zM438.4 123.2l2.9 4.9h-5.8zM439.3 120.6l2.9 4.9h-5.8zM440.2 118.9l2.9 4.9h-5.8zM441.6 114.8l2.9 4.9h-5.8zM443.2 109.2l2.9 4.9h-5.8zM444 107l2.9 4.9h-5.8zM444.9 104.8l2.9 4.9h-5.8zM445.8 102.3l2.9 4.9h-5.8zM446.6 100.3l2.9 4.9h-5.8zM447.4 98.8l2.9 4.9h-5.8zM448 97.3l2.9 4.9h-5.8zM448.6 89.5l2.9 4.9h-5.8zM449.5 87.8l2.9 4.9h-5.8zM450.5 86l2.9 4.9h-5.8zM451.5 84.3l2.9 4.9h-5.8zM452.6 82.5l2.9 4.9h-5.8zM453.5 80.8l2.9 4.9h-5.8zM454.5 79l2.9 4.9h-5.8zM455.5 77.3l2.9 4.9h-5.8zM456.5 75.5l2.9 4.9h-5.8zM457.5 74.3l2.9 4.9h-5.8zM458.5 73.1l2.9 4.9h-5.8zM459.5 72l2.9 4.9h-5.8zM460.5 70.8l2.9 4.9h-5.8zM461.5 69.5l2.9 4.9h-5.8zM462.5 67.5l2.9 4.9h-5.8zM463.5 65.2l2.9 4.9h-5.8zM464.5 61.2l2.9 4.9h-5.8zM465.5 57.2l2.9 4.9h-5.8zM466.5 53.8l2.9 4.9h-5.8zM467.5 50.2l2.9 4.9h-5.8zM468.5 46.8l2.9 4.9h-5.8zM469.5 43.3l2.9 4.9h-5.8zM470.4 40.5l2.9 4.9h-5.8zM471.4 37.5l2.9 4.9h-5.8zM472.4 34.3l2.9 4.9h-5.8zM473.3 31.9l2.9 4.9h-5.8zM474.2 29.6l2.9 4.9h-5.8zM475 27.4l2.9 4.9h-5.8zM475.7 24.6l2.9 4.9h-5.8zM476.4 21.4l2.9 4.9h-5.8zM477.1 18.6l2.9 4.9h-5.8zM477.8 15.9l2.9 4.9h-5.8zM273.2 60.9l2.9 4.9h-5.8z" fill="#c080ff"/>
<path id="s-unigen2" d="M95 248l2.9 -4.9h-5.8zM95.9 247.8l2.9 -4.9h-5.8zM96.8 247.8l2.9 -4.9h-5.8zM97.6 247.9l2.9 -4.9h-5.8zM98.5 247.7l2.9 -4.9h-5.8zM99.4 247.7l2.9 -4.9h-5.8zM100.3 247.7l2.9 -4.9h-5.8zM101.2 247.7l2.9 -4.9h-5.8zM102 247.8l2.9 -4.9h-5.8zM102.9 247.8l2.9 -4.9h-5.8zM103.8 247.9l2.9 -4.9h-5.8zM104.7 247.7l2.9 -4.9h-5.8zM105.6 247.6l2.9 -4.9h-5.8zM106.4 247.8l2.9 -4.9h-5.8zM107.3 247.7l2.9 -4.9h-5.8zM108.2 247.5l2.9 -4.9h-5.8zM109.1 247.4l2.9 -4.9h-5.8zM110 247.4l2.9 -4.9h-5.8zM110.9 247.5l2.9 -4.9h-5.8zM111.7 247.6l2.9 -4.9h-5.8zM112.6 247.6l2.9 -4.9h-5.8zM113.5 247.6l2.9 -4.9h-5.8zM114.4 247.5l2.9 -4.9h-5.8zM115.3 247.5l2.9 -4.9h-5.8zM116.1 247.6l2.9 -4.9h-5.8zM117 247.2l2.9 -4.9h-5.8zM117.9 247.2l2.9 -4.9h-5.8zM118.8 247.3l2.9 -4.9h-5.8zM119.7 247.4l2.9 -4.9h-5.8zM120.5 247.3l2.9 -4.9h-5.8zM121.4 247.3l2.9 -4.9h-5.8zM122.3 247.2l2.9 -4.9h-5.8zM123.2 247.3l2.9 -4.9h-5.8zM124.1 247.3l2.9 -4.9h-5.8zM124.9 247l2.9 -4.9h-5.8zM125.8 247.2l2.9 -4.9h-5.8zM126.7 247.3l2.9 -4.9h-5.8zM127.6 247.1l2.9 -4.9h-5.8zM128.5 246.9l2.9 -4.9h-5.8zM129.3 247l2.9 -4.9h-5.8zM130.2 246.8l2.9 -4.9h-5.8zM131.1 247.1l2.9 -4.9h-5.8zM132 246.9l2.9 -4.9h-5.8zM132.9 247l2.9 -4.9h-5.8zM133.7 246.9l2.9 -4.9h-5.8zM134.6 247l2.9 -4.9h-5.8zM135.5 246.7l2.9 -4.9h-5.8zM136.4 246.7l2.9 -4.9h-5.8zM137.3 247l2.9 -4.9h-5.8zM138.1 246.5l2.9 -4.9h-5.8zM139 246.5l2.9 -4.9h-5.8zM139.9 246.6l2.9 -4.9h-5.8zM140.8 246.4l2.9 -4.9h-5.8zM141.7 246.5l2.9 -4.9h-5.8zM142.6 246.7l2.9 -4.9h-5.8zM143.4 246.6l2.9 -4.9h-5.8zM144.3 246.6l2.9 -4.9h-5.8zM145.2 246.3l2.9 -4.9h-5.8zM146.1 246.6l2.9 -4.9h-5.8zM147 246.5l2.9 -4.9h-5.8zM147.8 246.2l2.9 -4.9h-5.8zM148.7 246.4l2.9 -4.9h-5.8zM149.6 246.2l2.9 -4.9h-5.8zM150.5 246.1l2.9 -4.9h-5.8zM151.4 246l2.9 -4.9h-5.8zM152.2 246l2.9 -4.9h-5.8zM153.1 245.9l2.9 -4.9h-5.8zM154 246.3l2.9 -4.9h-5.8zM154.9 246l2.9 -4.9h-5.8zM155.8 246l2.9 -4.9h-5.8zM156.6 246.2l2.9 -4.9h-5.8zM157.5 246.2l2.9 -4.9h-5.8zM158.4 245.8l2.9 -4.9h-5.8zM159.3 245.8l2.9 -4.9h-5.8zM160.2 246.1l2.9 -4.9h-5.8zM161 245.7l2.9 -4.9h-5.8zM161.9 245.7l2.9 -4.9h-5.8zM162.8 245.5l2.9 -4.9h-5.8zM163.7 245.7l2.9 -4.9h-5.8zM164.6 245.9l2.9 -4.9h-5.8zM165.4 245.4l2.9 -4.9h-5.8zM166.3 245.5l2.9 -4.9h-5.8zM167.2 245.5l2.9 -4.9h-5.8zM168.1 245.5l2.9 -4.9h-5.8zM169 245.5l2.9 -4.9h-5.8zM169.9 245.5l2.9 -4.9h-5.8zM170.7 245.4l2.9 -4.9h-5.8zM171.6 245.4l2.9 -4.9h-5.8zM172.5 245.2l2.9 -4.9h-5.8zM173.4 244.9l2.9 -4.9h-5.8zM174.3 245l2.9 -4.9h-5.8zM175.1 245.1l2.9 -4.9h-5.8zM176 245.2l2.9 -4.9h-5.8zM176.9 245.2l2.9 -4.9h-5.8zM177.8 244.8l2.9 -4.9h-5.8zM178.7 244.7l2.9 -4.9h-5.8zM179.5 244.9l2.9 -4.9h-5.8zM180.4 244.9l2.9 -4.9h-5.8zM181.3 244.8l2.9 -4.9h-5.8zM182.2 244.8l2.9 -4.9h-5.8zM183.1 244.8l2.9 -4.9h-5.8zM183.9 244.7l2.9 -4.9h-5.8zM184.8 244.4l2.9 -4.9h-5.8zM185.7 244.7l2.9 -4.9h-5.8zM186.6 244.7l2.9 -4.9h-5.8zM187.5 244.3l2.9 -4.9h-5.8zM188.3 244.5l2.9 -4.9h-5.8zM189.2 244.1l2.9 -4.9h-5.8zM190.1 244.5l2.9 -4.9h-5.8zM191 244.3l2.9 -4.9h-5.8zM191.9 244.2l2.9 -4.9h-5.8zM192.7 243.8l2.9 -4.9h-5.8zM193.6 243.4l2.9 -4.9h-5.8zM194.5 243.2l2.9 -4.9h-5.8zM195.4 243.4l2.9 -4.9h-5.8zM196.3 243.6l2.9 -4.9h-5.8zM197.1 243.6l2.9 -4.9h-5.8zM198 243l2.9 -4.9h-5.8zM198.9 242.9l2.9 -4.9h-5.8zM199.8 243l2.9 -4.9h-5.8zM200.7 242.6l2.9 -4.9h-5.8zM201.6 243l2.9 -4.9h-5.8zM202.4 242.6l2.9 -4.9h-5.8zM203.3 242.7l2.9 -4.9h-5.8zM204.2 242.4l2.9 -4.9h-5.8zM205.1 242.1l2.9 -4.9h-5.8zM206 241.9l2.9 -4.9h-5.8zM206.8 241.5l2.9 -4.9h-5.8zM207.7 241.2l2.9 -4.9h-5.8zM208.6 241.3l2.9 -4.9h-5.8zM209.5 241.2l2.9 -4.9h-5.8zM210.4 241.3l2.9 -4.9h-5.8zM211.2 241.1l2.9 -4.9h-5.8zM212.1 241.3l2.9 -4.9h-5.8zM213 241.3l2.9 -4.9h-5.8zM213.9 241l2.9 -4.9h-5.8zM214.8 241.2l2.9 -4.9h-5.8zM215.6 240.9l2.9 -4.9h-5.8zM216.5 240.9l2.9 -4.9h-5.8zM217.4 240.9l2.9 -4.9h-5.8zM218.3 240.8l2.9 -4.9h-5.8zM219.2 240.9l2.9 -4.9h-5.8zM220 240.8l2.9 -4.9h-5.8zM220.9 240.5l2.9 -4.9h-5.8zM221.8 240.8l2.9 -4.9h-5.8zM222.7 240.3l2.9 -4.9h-5.8zM223.6 240.1l2.9 -4.9h-5.8zM224.4 240.1l2.9 -4.9h-5.8zM225.3 240.2l2.9 -4.9h-5.8zM226.2 240.2l2.9 -4.9h-5.8zM227.1 240l2.9 -4.9h-5.8zM228 239.5l2.9 -4.9h-5.8zM228.9 238.8l2.9 -4.9h-5.8zM229.7 239.9l2.9 -4.9h-5.8zM230.6 239.9l2.9 -4.9h-5.8zM231.5 239.1l2.9 -4.9h-5.8zM232.4 238.3l2.9 -4.9h-5.8zM233.3 237.6l2.9 -4.9h-5.8zM234.1 237.8l2.9 -4.9h-5.8zM235 236.5l2.9 -4.9h-5.8zM235.9 236.5l2.9 -4.9h-5.8zM236.8 236.6l2.9 -4.9h-5.8zM237.7 236.1l2.9 -4.9h-5.8zM238.5 237l2.9 -4.9h-5.8zM239.4 235.4l2.9 -4.9h-5.8zM240.3 235.9l2.9 -4.9h-5.8zM241.2 235.2l2.9 -4.9h-5.8zM242.1 234.8l2.9 -4.9h-5.8zM242.9 235.5l2.9 -4.9h-5.8zM243.8 234.6l2.9 -4.9h-5.8zM244.7 234.6l2.9 -4.9h-5.8zM245.6 234.3l2.9 -4.9h-5.8zM246.5 234.2l2.9 -4.9h-5.8zM247.3 233.8l2.9 -4.9h-5.8zM248.2 233.7l2.9 -4.9h-5.8zM249.1 233.6l2.9 -4.9h-5.8zM250 232.7l2.9 -4.9h-5.8zM250.9 233.3l2.9 -4.9h-5.8zM251.7 233l2.9 -4.9h-5.8zM252.6 233.2l2.9 -4.9h-5.8zM253.5 232.8l2.9 -4.9h-5.8zM254.4 232.5l2.9 -4.9h-5.8zM255.3 232.2l2.9 -4.9h-5.8zM256.1 232.2l2.9 -4.9h-5.8zM257 232.5l2.9 -4.9h-5.8zM257.9 232l2.9 -4.9h-5.8zM258.8 232l2.9 -4.9h-5.8zM259.7 231.6l2.9 -4.9h-5.8zM260.6 232.1l2.9 -4.9h-5.8zM261.4 231.8l2.9 -4.9h-5.8zM262.3 231.9l2.9 -4.9h-5.8zM263.2 231.1l2.9 -4.9h-5.8zM264.1 231.3l2.9 -4.9h-5.8zM265 231.5l2.9 -4.9h-5.8zM265.8 231.3l2.9 -4.9h-5.8zM266.7 231.5l2.9 -4.9h-5.8zM267.6 231.1l2.9 -4.9h-5.8zM268.5 230.4l2.9 -4.9h-5.8zM269.4 229.6l2.9 -4.9h-5.8zM270.2 229.3l2.9 -4.9h-5.8zM271.1 228.8l2.9 -4.9h-5.8zM272 228.4l2.9 -4.9h-5.8zM272.9 228.7l2.9 -4.9h-5.8zM273.8 228.3l2.9 -4.9h-5.8zM274.6 227.9l2.9 -4.9h-5.8zM275.5 227.9l2.9 -4.9h-5.8zM276.4 227.6l2.9 -4.9h-5.8zM277.3 228l2.9 -4.9h-5.8zM278.2 227.2l2.9 -4.9h-5.8zM279 227.7l2.9 -4.9h-5.8zM279.9 226.9l2.9 -4.9h-5.8zM280.8 227l2.9 -4.9h-5.8zM281.7 226.9l2.9 -4.9h-5.8zM282.6 227l2.9 -4.9h-5.8zM283.4 226.4l2.9 -4.9h-5.8zM284.3 226.5l2.9 -4.9h-5.8zM285.2 226.3l2.9 -4.9h-5.8zM286.1 226l2.9 -4.9h-5.8zM287 226.5l2.9 -4.9h-5.8zM287.9 226l2.9 -4.9h-5.8zM288.7 225.2l2.9 -4.9h-5.8zM289.6 225.2l2.9 -4.9h-5.8zM290.5 224.6l2.9 -4.9h-5.8zM291.4 223.8l2.9 -4.9h-5.8zM292.3 222.8l2.9 -4.9h-5.8zM293.1 221.8l2.9 -4.9h-5.8zM294 220.8l2.9 -4.9h-5.8zM294.9 221.5l2.9 -4.9h-5.8zM295.8 221.8l2.9 -4.9h-5.8zM296.7 221.1l2.9 -4.9h-5.8zM297.5 220.8l2.9 -4.9h-5.8zM298.4 220.5l2.9 -4.9h-5.8zM299.3 219.3l2.9 -4.9h-5.8zM300.2 219l2.9 -4.9h-5.8zM301.1 218.5l2.9 -4.9h-5.8zM301.9 218l2.9 -4.9h-5.8zM302.8 217.8l2.9 -4.9h-5.8zM303.7 217.1l2.9 -4.9h-5.8zM304.6 217.2l2.9 -4.9h-5.8zM305.5 217.2l2.9 -4.9h-5.8zM306.3 217.1l2.9 -4.9h-5.8zM307.2 216.1l2.9 -4.9h-5.8zM308.1 216.2l2.9 -4.9h-5.8zM309 215.2l2.9 -4.9h-5.8zM309.9 215.3l2.9 -4.9h-5.8zM310.7 215.4l2.9 -4.9h-5.8zM311.6 215.7l2.9 -4.9h-5.8zM312.5 215l2.9 -4.9h-5.8zM313.4 214l2.9 -4.9h-5.8zM314.3 213.8l2.9 -4.9h-5.8zM315.1 213.8l2.9 -4.9h-5.8zM316 213l2.9 -4.9h-5.8zM316.9 213.2l2.9 -4.9h-5.8zM317.8 212.9l2.9 -4.9h-5.8zM318.7 212.5l2.9 -4.9h-5.8zM319.6 212.3l2.9 -4.9h-5.8zM320.4 212.5l2.9 -4.9h-5.8zM321.3 211.3l2.9 -4.9h-5.8zM322.2 210.4l2.9 -4.9h-5.8zM323.1 210.8l2.9 -4.9h-5.8zM324 210.3l2.9 -4.9h-5.8zM324.8 210.4l2.9 -4.9h-5.8zM325.7 209.7l2.9 -4.9h-5.8zM326.6 209.2l2.9 -4.9h-5.8zM327.5 209.2l2.9 -4.9h-5.8zM328.4 207.8l2.9 -4.9h-5.8zM329.2 208.3l2.9 -4.9h-5.8zM330.1 208.2l2.9 -4.9h-5.8zM331 207.5l2.9 -4.9h-5.8zM331.9 206.1l2.9 -4.9h-5.8zM332.8 206.1l2.9 -4.9h-5.8zM333.6 205.7l2.9 -4.9h-5.8zM334.5 205.3l2.9 -4.9h-5.8zM335.4 205.5l2.9 -4.9h-5.8zM336.3 204.8l2.9 -4.9h-5.8zM337.2 203.7l2.9 -4.9h-5.8zM338 204l2.9 -4.9h-5.8zM338.9 203.3l2.9 -4.9h-5.8zM339.8 204l2.9 -4.9h-5.8zM340.7 202.9l2.9 -4.9h-5.8zM341.6 202.4l2.9 -4.9h-5.8zM342.4 201.5l2.9 -4.9h-5.8zM343.3 200.7l2.9 -4.9h-5.8zM344.2 200.7l2.9 -4.9h-5.8zM345.1 199.9l2.9 -4.9h-5.8zM346 198.8l2.9 -4.9h-5.8zM346.9 200l2.9 -4.9h-5.8zM347.7 198.6l2.9 -4.9h-5.8zM348.6 198.9l2.9 -4.9h-5.8zM349.5 198.5l2.9 -4.9h-5.8zM350.4 198l2.9 -4.9h-5.8zM351.3 197.2l2.9 -4.9h-5.8zM352.1 196.4l2.9 -4.9h-5.8zM353 196l2.9 -4.9h-5.8zM353.9 195.7l2.9 -4.9h-5.8zM354.8 195l2.9 -4.9h-5.8zM355.7 195.4l2.9 -4.9h-5.8zM356.5 193.7l2.9 -4.9h-5.8zM357.4 193.9l2.9 -4.9h-5.8zM358.3 193.6l2.9 -4.9h-5.8zM359.2 193.1l2.9 -4.9h-5.8zM360.1 193.5l2.9 -4.9h-5.8zM360.9 193.4l2.9 -4.9h-5.8zM361.8 193.2l2.9 -4.9h-5.8zM362.7 192.1l2.9 -4.9h-5.8zM363.6 191.7l2.9 -4.9h-5.8zM364.5 191.7l2.9 -4.9h-5.8zM365.3 191.3l2.9 -4.9h-5.8zM366.2 192l2.9 -4.9h-5.8zM367.1 191.2l2.9 -4.9h-5.8zM368 190.9l2.9 -4.9h-5.8zM368.9 190l2.9 -4.9h-5.8zM369.7 190l2.9 -4.9h-5.8zM370.6 188.5l2.9 -4.9h-5.8zM371.5 189.3l2.9 -4.9h-5.8zM372.4 187.8l2.9 -4.9h-5.8zM373.3 187.1l2.9 -4.9h-5.8zM374.2 185.8l2.9 -4.9h-5.8zM375 184.7l2.9 -4.9h-5.8zM375.9 183.4l2.9 -4.9h-5.8zM376.8 183.1l2.9 -4.9h-5.8zM377.7 182l2.9 -4.9h-5.8zM378.6 181.5l2.9 -4.9h-5.8zM379.4 181.5l2.9 -4.9h-5.8zM380.3 180.6l2.9 -4.9h-5.8zM381.2 179.9l2.9 -4.9h-5.8zM382.1 179.1l2.9 -4.9h-5.8zM383 178.3l2.9 -4.9h-5.8zM383.8 176.3l2.9 -4.9h-5.8zM384.7 174.6l2.9 -4.9h-5.8zM385.6 171.9l2.9 -4.9h-5.8zM386.5 170.6l2.9 -4.9h-5.8zM387.4 168.4l2.9 -4.9h-5.8zM388.2 165.6l2.9 -4.9h-5.8zM389.1 164.7l2.9 -4.9h-5.8zM390 163.5l2.9 -4.9h-5.8zM390.9 162.2l2.9 -4.9h-5.8zM391.8 161.3l2.9 -4.9h-5.8zM392.6 160.7l2.9 -4.9h-5.8zM393.5 158.8l2.9 -4.9h-5.8zM394.4 159.2l2.9 -4.9h-5.8zM395.3 157.5l2.9 -4.9h-5.8zM396.2 155.9l2.9 -4.9h-5.8zM397 155.6l2.9 -4.9h-5.8zM397.9 154.1l2.9 -4.9h-5.8zM398.8 153.3l2.9 -4.9h-5.8zM399.7 153.7l2.9 -4.9h-5.8zM400.6 152.4l2.9 -4.9h-5.8zM401.4 151.8l2.9 -4.9h-5.8zM402.3 151.3l2.9 -4.9h-5.8zM403.2 151l2.9 -4.9h-5.8zM404.1 148.7l2.9 -4.9h-5.8zM405 147.6l2.9 -4.9h-5.8zM405.9 146.7l2.9 -4.9h-5.8zM406.7 145.7l2.9 -4.9h-5.8zM407.6 143.8l2.9 -4.9h-5.8zM408.5 142.5l2.9 -4.9h-5.8zM409.4 141.2l2.9 -4.9h-5.8zM410.3 139.4l2.9 -4.9h-5.8zM411.1 138.3l2.9 -4.9h-5.8zM412 137.2l2.9 -4.9h-5.8zM412.9 136.9l2.9 -4.9h-5.8zM413.8 134.6l2.9 -4.9h-5.8zM414.7 131.8l2.9 -4.9h-5.8zM415.5 130.9l2.9 -4.9h-5.8zM416.4 129.2l2.9 -4.9h-5.8zM417.3 127.8l2.9 -4.9h-5.8zM418.2 127l2.9 -4.9h-5.8zM419.1 125l2.9 -4.9h-5.8zM419.9 121.3l2.9 -4.9h-5.8zM420.8 120.3l2.9 -4.9h-5.8zM421.7 118.9l2.9 -4.9h-5.8zM422.6 117l2.9 -4.9h-5.8zM423.5 115.2l2.9 -4.9h-5.8zM424.3 114l2.9 -4.9h-5.8zM425.2 111.5l2.9 -4.9h-5.8zM426.1 111.4l2.9 -4.9h-5.8zM427 108.8l2.9 -4.9h-5.8zM427.9 107l2.9 -4.9h-5.8zM428.7 106.3l2.9 -4.9h-5.8zM430.8 98.8l2.9 -4.9h-5.8zM432.6 88.4l2.9 -4.9h-5.8zM433.4 87l2.9 -4.9h-5.8zM434.2 86l2.9 -4.9h-5.8zM435.2 83.7l2.9 -4.9h-5.8zM436.2 81.4l2.9 -4.9h-5.8zM437.2 79.5l2.9 -4.9h-5.8zM438.2 77.5l2.9 -4.9h-5.8zM439.1 74.5l2.9 -4.9h-5.8zM440.1 71.5l2.9 -4.9h-5.8zM440.9 67.7l2.9 -4.9h-5.8zM441.7 64.2l2.9 -4.9h-5.8zM442.3 61.5l2.9 -4.9h-5.8zM442.7 59.2l2.9 -4.9h-5.8zM443.6 55.7l2.9 -4.9h-5.8zM444.5 52.2l2.9 -4.9h-5.8zM445.7 49.7l2.9 -4.9h-5.8zM447.1 47.2l2.9 -4.9h-5.8zM448.4 46.1l2.9 -4.9h-5.8zM449.7 45.1l2.9 -4.9h-5.8zM451.1 44.2l2.9 -4.9h-5.8zM452.1 42.2l2.9 -4.9h-5.8zM453.1 40.2l2.9 -4.9h-5.8zM454.1 38.2l2.9 -4.9h-5.8zM455.1 36.4l2.9 -4.9h-5.8zM456.4 27.3l2.9 -4.9h-5.8zM457 24.6l2.9 -4.9h-5.8zM457.6 21.9l2.9 -4.9h-5.8zM273.2 84l2.9 -4.9h-5.8z" fill="#a52a2a"/>
</g>
<g id="axes" stroke="#000" stroke-width="1.3" fill="none">
<path d="M95.3 16.9V246.55H799.8"/>
<path d="M95.3 17.4h1.7M95.3 63.2h1.7M95.3 109h1.7M95.3 154.8h1.7M95.3 200.7h1.7" stroke-width="0.9"/>
<path d="M183 246.5v-1.5M271 246.5v-1.5M359 246.5v-1.5M447 246.5v-1.5M535 246.5v-1.5M623 246.5v-1.5M711 246.5v-1.5M799.3 246.5v-1.5" stroke-width="0.8"/>
</g>
<g id="ylab" text-anchor="end">
<text x="84.7" y="22.8">5000</text>
<text x="84.7" y="68.6">4000</text>
<text x="84.7" y="114.4">3000</text>
<text x="84.7" y="160.2">2000</text>
<text x="84.7" y="206">1000</text>
<text x="84.7" y="252.4">0</text>
</g>
<g id="xlab" text-anchor="middle">
<text x="97.3" y="269.2">600</text>
<text x="185.3" y="269.2">700</text>
<text x="273.3" y="269.2">800</text>
<text x="361.3" y="269.2">900</text>
<text x="449.8" y="269.2">1000</text>
<text x="537.8" y="269.2">1100</text>
<text x="625.8" y="269.2">1200</text>
<text x="713.8" y="269.2">1300</text>
<text x="801.8" y="269.2">1400</text>
</g>
<text transform="translate(447.2,295.6) scale(1,1.04)" text-anchor="middle">Sampled instances</text>
<text transform="translate(21.3,129.3) rotate(-90) scale(1.02,1.04)" text-anchor="middle">Time (s)</text>
<g id="legend" text-anchor="end">
<text transform="translate(240.5,34.7) scale(1,1.04)">Arjun+UniGen3</text>
<text transform="translate(240.5,52.2) scale(1,1.04)">MIS+UniGen3</text>
<text transform="translate(240.5,69.8) scale(1,1.04)">UniGen3</text>
<text transform="translate(240.5,87.3) scale(1,1.04)">UniGen2</text>
</g>
</svg>
</body></html>
